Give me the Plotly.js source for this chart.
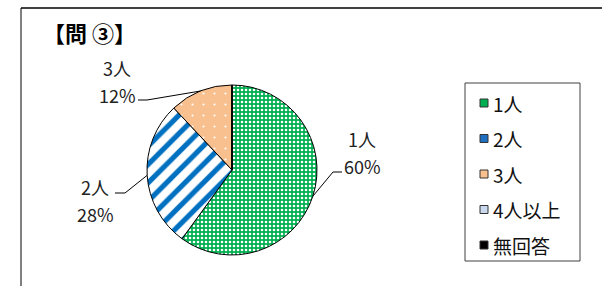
<!DOCTYPE html>
<html><head><meta charset="utf-8">
<script src="https://cdn.plot.ly/plotly-3.0.1.min.js"></script>
<style>html,body{margin:0;padding:0;background:#fff}#chart{width:602px;height:286px}</style>
</head><body><div id="chart"></div>
<script>
// ---- data ----
const categories = ['1人', '2人', '3人', '4人以上', '無回答'];
const values = [60, 28, 12, 0, 0];
const sliceColors = ['#00B050', '#FFFFFF', '#F9C08F', '#FFFFFF', '#000000'];
const swatchColors = ['#00B050', '#1F6FC0', '#F9C08F', '#C9D8EC', '#000000'];
const titleText = '【問 ③】';

// ---- layout helpers (pixel -> paper) ----
const W = 602, H = 286;
const px = x => x / W, py = y => 1 - y / H;
const cx = 232, cy = 170, R = 85;
const FONT = 'Noto Sans CJK JP, Noto Sans, sans-serif';

const total = values.reduce((a, b) => a + b, 0);

const trace = {
  type: 'pie',
  labels: categories,
  values: values,
  sort: false,
  direction: 'clockwise',
  rotation: 0,
  textinfo: 'none',
  hoverinfo: 'label+percent',
  showlegend: false,
  domain: {x: [px(cx - R), px(cx + R)], y: [py(cy + R), py(cy - R)]},
  marker: {
    colors: sliceColors,
    line: {color: '#000000', width: 1},
    pattern: {
      shape: ['.', '/', '.', '', ''],
      fgcolor: ['#FFFFFF', '#0070C0', '#FFFFFF', '#0070C0', '#000000'],
      bgcolor: ['#00B050', '#FFFFFF', '#F9C08F', '#FFFFFF', '#000000'],
      size: [4, 13, 11, 8, 8],
      solidity: [0.33, 0.4, 0.03, 0.3, 0.3],
      fillmode: 'replace'
    }
  }
};

// data labels with leader lines, attached at each slice's mid-angle
const labelPos = [
  {lx: 362, ly1: 139, ly2: 166, hx1: 342, hx2: 333, hy: 172},
  {lx: 95,  ly1: 187, ly2: 214, hx1: 115, hx2: 125, hy: 193},
  {lx: 117, ly1: 68,  ly2: 95,  hx1: 138, hx2: 147, hy: 100}
];
const annotations = [];
const shapes = [];
let cum = 0;
values.forEach((v, i) => {
  const start = cum; cum += v;
  if (v <= 0 || i >= labelPos.length) return;
  const mid = (start + v / 2) / total * 2 * Math.PI;
  const ex = cx + R * Math.sin(mid), ey = cy - R * Math.cos(mid);
  const p = labelPos[i];
  const pct = Math.round(v / total * 100) + '%';
  annotations.push({xref: 'paper', yref: 'paper', x: px(p.lx), y: py(p.ly1), text: categories[i],
    showarrow: false, xanchor: 'center', yanchor: 'middle', font: {family: FONT, size: 18, color: '#222'}});
  annotations.push({xref: 'paper', yref: 'paper', x: px(p.lx), y: py(p.ly2), text: pct,
    showarrow: false, xanchor: 'center', yanchor: 'middle', font: {family: FONT, size: 18, color: '#222'}});
  shapes.push({type: 'path', xref: 'paper', yref: 'paper',
    path: `M${px(ex)},${py(ey)} L${px(p.hx2)},${py(p.hy)} L${px(p.hx1)},${py(p.hy)}`,
    line: {color: '#000', width: 1}});
});

// custom legend box
shapes.push({type: 'rect', xref: 'paper', yref: 'paper', x0: px(465), x1: px(580), y0: py(261), y1: py(83),
  line: {color: '#404040', width: 1}, fillcolor: 'rgba(0,0,0,0)'});
categories.forEach((c, i) => {
  const yc = 103 + i * 35.5;
  shapes.push({type: 'rect', xref: 'paper', yref: 'paper', x0: px(480), x1: px(488), y0: py(yc + 4), y1: py(yc - 4),
    line: {color: '#333', width: 1}, fillcolor: swatchColors[i]});
  annotations.push({xref: 'paper', yref: 'paper', x: px(491), y: py(yc), text: c, showarrow: false,
    xanchor: 'left', yanchor: 'middle', font: {family: FONT, size: 19, color: '#111'}});
});

// outer frame (top and left edges)
shapes.push({type: 'line', xref: 'paper', yref: 'paper', x0: px(21), x1: 1, y0: py(8), y1: py(8), line: {color: '#000', width: 1.5}});
shapes.push({type: 'line', xref: 'paper', yref: 'paper', x0: px(21), x1: px(21), y0: py(8), y1: 0, line: {color: '#000', width: 1}});

const layout = {
  width: W, height: H,
  margin: {l: 0, r: 0, t: 0, b: 0},
  paper_bgcolor: '#FFFFFF',
  showlegend: false,
  title: {text: titleText, x: px(43), xanchor: 'left', xref: 'paper', y: py(34), yanchor: 'middle', yref: 'paper',
    font: {family: FONT, size: 22, color: '#000', weight: 'bold'}},
  annotations: annotations,
  shapes: shapes
};

Plotly.newPlot('chart', [trace], layout, {displayModeBar: false, staticPlot: true});
</script>
</body></html>
